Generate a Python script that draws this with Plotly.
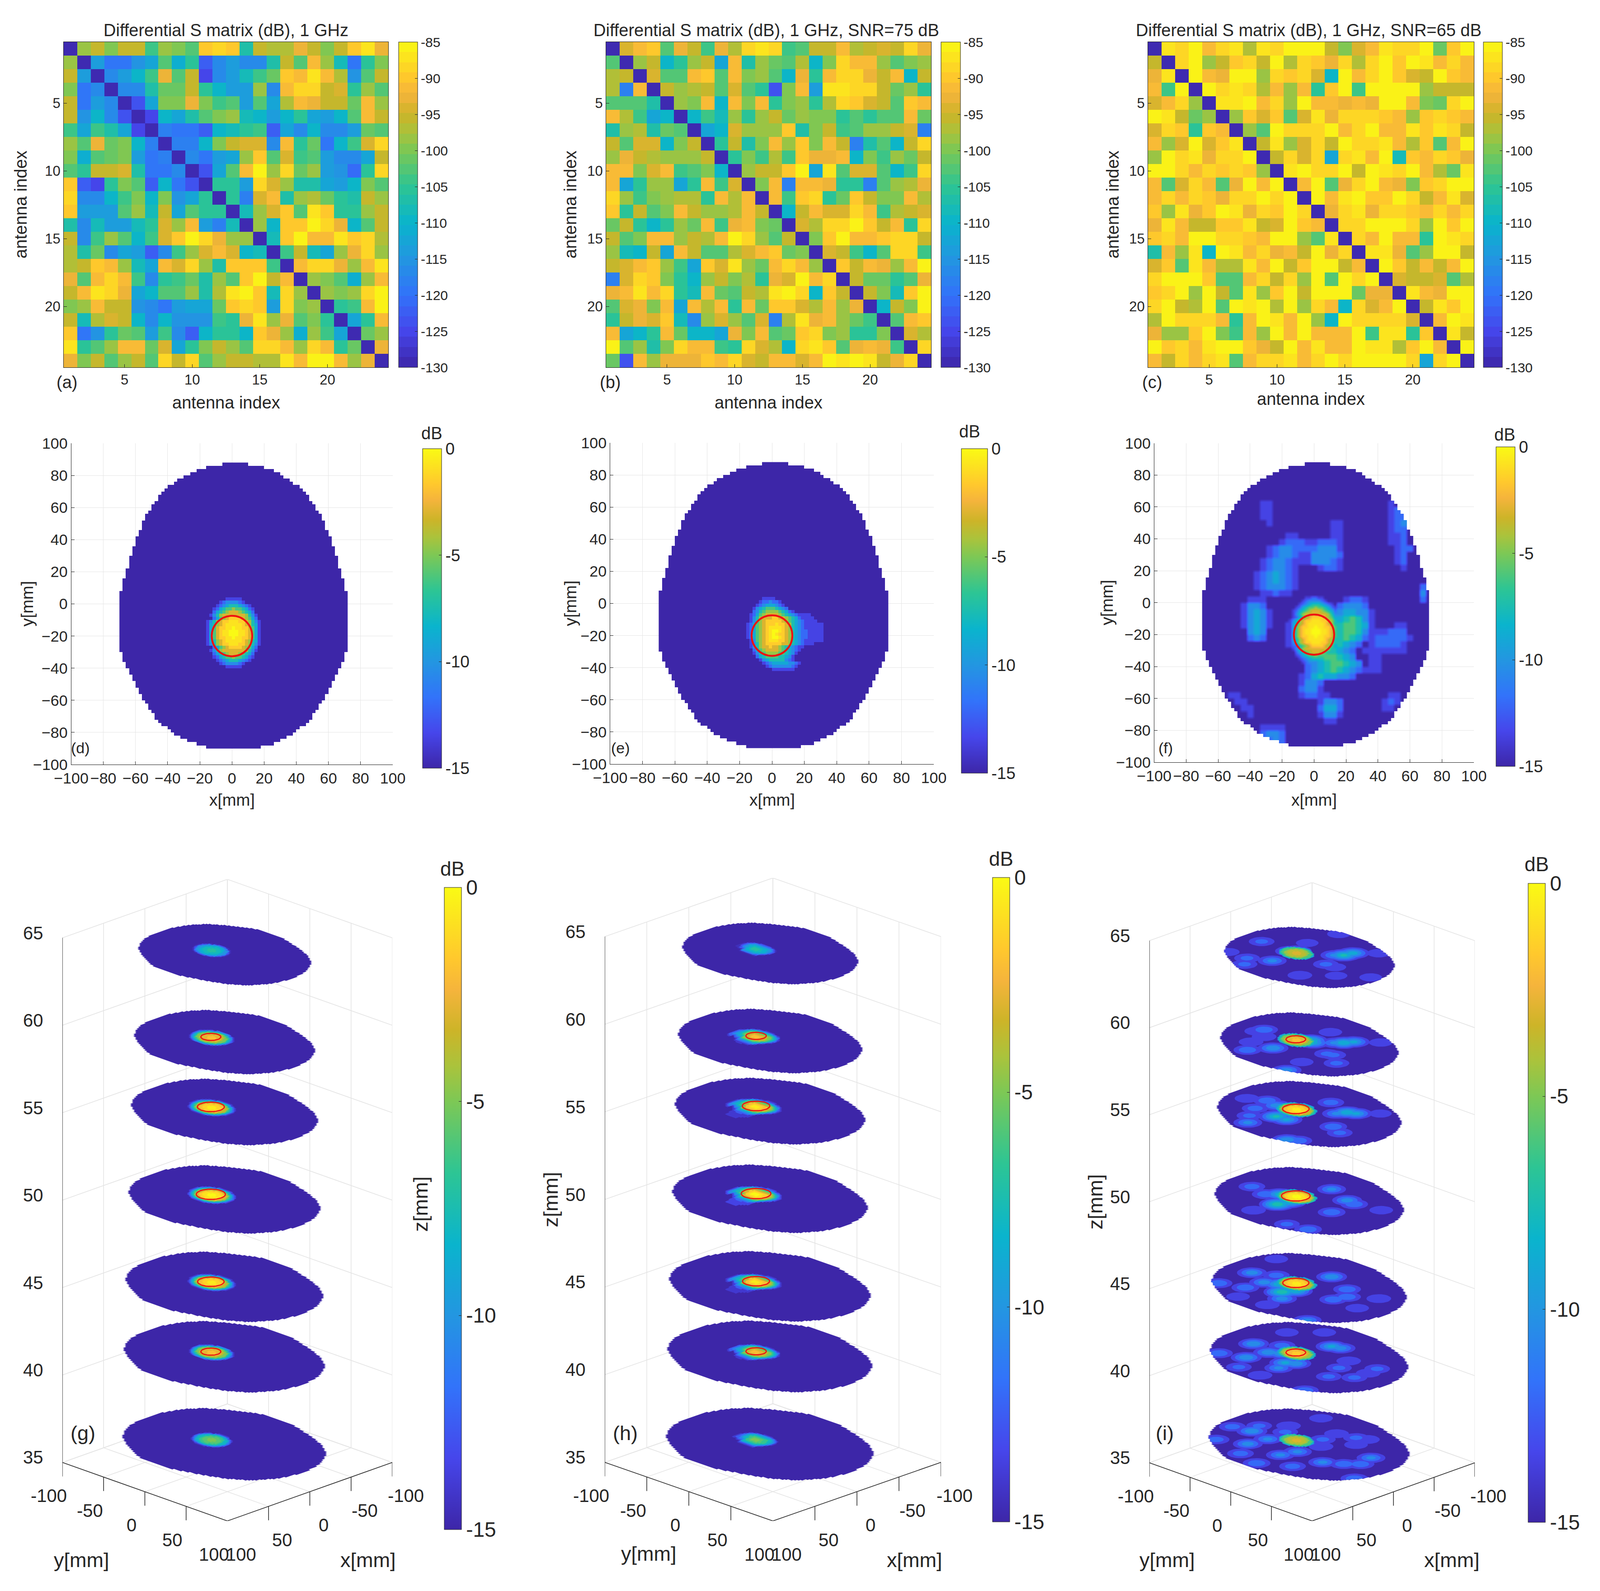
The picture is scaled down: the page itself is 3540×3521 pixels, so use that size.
import plotly.graph_objects as go
import numpy as np

W, H = 3540, 3521
FONT = "Liberation Sans"
INK = "#262626"

# antenna matrices, dB (a), (b), (c)
s_clean = [
    [-130,-98,-96,-100,-96,-96,-104,-99,-100,-103,-90,-88,-90,-107,-96,-97,-97,-93,-95,-100,-96,-90,-87,-93],
    [-98,-130,-114,-120,-120,-115,-113,-103,-111,-105,-122,-117,-114,-116,-117,-107,-96,-103,-92,-98,-108,-120,-105,-100],
    [-96,-114,-130,-116,-114,-109,-104,-93,-102,-95,-125,-117,-114,-108,-104,-101,-90,-91,-87,-91,-97,-115,-102,-96],
    [-100,-120,-116,-130,-116,-116,-107,-101,-101,-96,-106,-110,-114,-114,-98,-117,-92,-89,-89,-95,-94,-105,-99,-103],
    [-96,-120,-114,-116,-130,-124,-112,-100,-100,-93,-100,-104,-103,-114,-103,-113,-97,-91,-93,-95,-95,-101,-92,-99],
    [-96,-115,-109,-116,-124,-130,-125,-110,-113,-107,-103,-100,-98,-108,-110,-114,-109,-105,-112,-114,-110,-102,-92,-96],
    [-104,-113,-104,-107,-112,-125,-130,-118,-119,-119,-122,-109,-108,-106,-104,-122,-112,-117,-110,-116,-117,-114,-101,-103],
    [-99,-103,-93,-101,-100,-110,-118,-130,-118,-118,-109,-100,-95,-94,-94,-117,-91,-106,-101,-120,-110,-104,-94,-88],
    [-100,-111,-102,-101,-100,-114,-120,-118,-130,-116,-120,-114,-112,-99,-90,-103,-94,-104,-102,-114,-116,-117,-112,-96],
    [-103,-105,-95,-96,-94,-107,-119,-119,-116,-130,-123,-112,-103,-91,-85,-98,-88,-101,-98,-114,-115,-121,-106,-88],
    [-90,-122,-125,-106,-100,-103,-122,-109,-120,-123,-130,-106,-106,-114,-89,-94,-98,-107,-107,-112,-114,-109,-100,-102],
    [-88,-117,-117,-110,-104,-100,-109,-100,-115,-112,-106,-130,-106,-118,-94,-91,-107,-99,-97,-101,-105,-107,-96,-98],
    [-90,-114,-114,-114,-103,-98,-108,-95,-112,-103,-106,-106,-130,-108,-98,-94,-90,-102,-87,-90,-106,-105,-98,-96],
    [-107,-116,-108,-114,-114,-108,-106,-94,-99,-91,-114,-118,-108,-130,-99,-109,-90,-90,-86,-89,-93,-109,-103,-96],
    [-96,-117,-104,-98,-103,-109,-104,-94,-90,-86,-89,-93,-98,-99,-130,-108,-90,-85,-91,-91,-87,-90,-88,-97],
    [-97,-107,-101,-117,-113,-114,-122,-117,-104,-98,-94,-91,-94,-109,-108,-130,-104,-96,-108,-113,-99,-93,-88,-98],
    [-97,-96,-90,-92,-98,-108,-112,-91,-94,-89,-98,-107,-90,-90,-90,-104,-130,-92,-88,-89,-93,-99,-92,-87],
    [-93,-103,-91,-89,-91,-104,-117,-106,-104,-101,-107,-99,-102,-90,-86,-96,-92,-130,-98,-100,-103,-111,-98,-91],
    [-95,-92,-87,-89,-93,-112,-110,-102,-102,-98,-107,-97,-87,-86,-90,-108,-88,-98,-130,-99,-100,-99,-89,-85],
    [-100,-98,-91,-95,-95,-115,-116,-119,-114,-113,-112,-101,-90,-89,-90,-114,-88,-100,-99,-130,-106,-104,-91,-85],
    [-96,-108,-97,-94,-95,-110,-117,-110,-115,-115,-115,-104,-106,-93,-87,-99,-93,-103,-100,-106,-130,-112,-106,-92],
    [-90,-120,-115,-105,-101,-102,-114,-104,-117,-122,-109,-106,-105,-109,-90,-93,-99,-111,-99,-104,-112,-130,-101,-98],
    [-87,-105,-102,-99,-92,-91,-101,-94,-112,-106,-100,-96,-98,-103,-88,-88,-92,-98,-89,-91,-106,-101,-130,-93],
    [-93,-100,-96,-103,-99,-96,-103,-88,-96,-88,-102,-98,-96,-96,-97,-97,-87,-91,-85,-85,-92,-98,-93,-130],
]
s_snr75 = [
    [-130,-94,-92,-90,-102,-93,-96,-104,-93,-97,-89,-87,-88,-104,-103,-96,-95,-91,-97,-96,-94,-95,-88,-93],
    [-103,-130,-98,-96,-110,-105,-99,-96,-113,-91,-107,-98,-101,-103,-97,-110,-100,-89,-92,-91,-99,-103,-100,-99],
    [-97,-96,-130,-94,-102,-102,-91,-90,-102,-92,-100,-98,-103,-110,-93,-106,-91,-88,-88,-93,-96,-91,-110,-95],
    [-97,-118,-92,-130,-95,-98,-97,-96,-103,-94,-103,-106,-124,-100,-91,-114,-87,-87,-88,-88,-95,-101,-98,-105],
    [-102,-103,-102,-107,-130,-98,-100,-91,-109,-91,-100,-92,-106,-100,-98,-106,-97,-89,-90,-94,-96,-103,-90,-91],
    [-91,-97,-104,-113,-110,-130,-109,-104,-108,-98,-106,-99,-96,-101,-98,-100,-100,-106,-103,-106,-103,-102,-91,-101],
    [-107,-98,-97,-107,-101,-103,-130,-113,-110,-94,-98,-98,-98,-90,-107,-100,-95,-104,-102,-99,-99,-96,-94,-118],
    [-96,-103,-94,-94,-110,-100,-96,-130,-106,-96,-107,-100,-92,-98,-90,-100,-91,-95,-118,-107,-102,-109,-96,-88],
    [-99,-93,-96,-97,-98,-98,-98,-96,-130,-105,-100,-104,-97,-104,-90,-93,-93,-92,-109,-100,-104,-98,-101,-95],
    [-92,-92,-100,-94,-92,-104,-102,-100,-109,-130,-98,-96,-96,-90,-85,-112,-87,-102,-94,-94,-102,-109,-104,-88],
    [-91,-112,-106,-98,-98,-113,-105,-91,-104,-94,-130,-100,-91,-118,-91,-92,-93,-105,-105,-118,-103,-98,-97,-93],
    [-89,-98,-104,-100,-99,-97,-97,-106,-91,-97,-92,-130,-91,-104,-90,-88,-106,-101,-90,-95,-100,-100,-91,-97],
    [-90,-106,-95,-103,-100,-91,-95,-98,-99,-97,-92,-96,-130,-110,-95,-91,-94,-94,-88,-91,-104,-97,-95,-94],
    [-101,-96,-105,-109,-105,-98,-101,-91,-104,-93,-92,-100,-101,-130,-94,-97,-88,-89,-85,-90,-95,-92,-106,-88],
    [-95,-102,-100,-91,-92,-99,-96,-97,-91,-85,-88,-98,-102,-95,-130,-100,-90,-85,-92,-92,-90,-88,-88,-95],
    [-98,-108,-110,-96,-113,-91,-95,-103,-103,-97,-94,-92,-90,-101,-100,-130,-94,-95,-104,-109,-102,-88,-88,-104],
    [-96,-94,-91,-90,-99,-104,-113,-90,-94,-87,-98,-101,-92,-89,-92,-98,-130,-90,-95,-91,-93,-98,-91,-86],
    [-118,-94,-88,-90,-100,-105,-110,-98,-96,-100,-97,-106,-93,-94,-85,-91,-89,-130,-96,-101,-101,-105,-103,-93],
    [-93,-91,-87,-92,-89,-106,-108,-92,-101,-102,-95,-97,-87,-85,-89,-109,-90,-96,-130,-96,-100,-108,-90,-85],
    [-103,-94,-93,-100,-91,-113,-91,-97,-92,-105,-92,-101,-90,-90,-94,-97,-91,-98,-93,-130,-110,-96,-100,-85],
    [-105,-95,-93,-94,-90,-108,-116,-99,-94,-98,-102,-94,-118,-97,-87,-93,-92,-98,-101,-104,-130,-103,-92,-90],
    [-91,-112,-110,-106,-92,-101,-110,-110,-112,-93,-100,-92,-102,-101,-90,-88,-100,-98,-105,-106,-100,-130,-94,-97],
    [-86,-103,-99,-107,-100,-89,-91,-92,-104,-106,-89,-94,-97,-110,-89,-87,-90,-102,-93,-91,-93,-104,-130,-89],
    [-101,-123,-91,-99,-93,-93,-93,-90,-91,-88,-94,-95,-92,-91,-94,-91,-85,-87,-85,-87,-96,-93,-89,-130],
]
s_snr65 = [
    [-130,-87,-89,-86,-91,-89,-87,-97,-87,-89,-86,-85,-86,-95,-100,-94,-91,-87,-89,-88,-85,-101,-90,-86],
    [-95,-130,-89,-85,-98,-96,-90,-89,-95,-85,-97,-89,-90,-93,-88,-97,-89,-85,-90,-85,-87,-91,-89,-91],
    [-93,-87,-130,-85,-91,-93,-85,-85,-98,-89,-90,-89,-94,-110,-86,-92,-88,-85,-90,-94,-95,-85,-90,-91],
    [-92,-104,-85,-130,-86,-89,-87,-89,-97,-92,-99,-91,-105,-90,-85,-104,-85,-85,-85,-85,-98,-96,-95,-96],
    [-94,-91,-89,-98,-130,-87,-87,-85,-91,-88,-99,-86,-92,-91,-93,-92,-93,-86,-85,-92,-100,-101,-88,-86],
    [-86,-87,-96,-101,-99,-130,-98,-90,-94,-90,-102,-94,-87,-93,-89,-89,-88,-90,-91,-98,-90,-88,-90,-91],
    [-94,-89,-90,-105,-90,-91,-130,-99,-102,-85,-88,-88,-89,-85,-92,-89,-86,-91,-91,-87,-90,-87,-88,-96],
    [-92,-99,-94,-85,-94,-90,-87,-130,-95,-87,-98,-94,-88,-96,-85,-88,-89,-87,-91,-97,-90,-102,-91,-85],
    [-98,-85,-89,-87,-93,-88,-88,-85,-130,-95,-88,-94,-88,-112,-89,-87,-92,-85,-108,-90,-91,-88,-90,-93],
    [-85,-85,-89,-92,-89,-90,-89,-90,-98,-130,-87,-86,-88,-88,-85,-96,-85,-87,-88,-85,-91,-97,-101,-87],
    [-92,-102,-94,-89,-91,-103,-93,-85,-91,-85,-130,-92,-85,-102,-93,-89,-85,-91,-93,-100,-90,-89,-86,-85],
    [-92,-88,-92,-89,-90,-93,-88,-88,-85,-88,-85,-130,-85,-92,-87,-85,-90,-90,-85,-89,-96,-92,-87,-94],
    [-90,-98,-87,-93,-90,-86,-87,-93,-88,-90,-85,-88,-130,-93,-89,-87,-93,-88,-89,-90,-92,-88,-91,-88],
    [-93,-87,-91,-95,-96,-90,-90,-87,-96,-94,-85,-90,-91,-130,-88,-88,-85,-86,-85,-88,-98,-85,-90,-85],
    [-90,-89,-91,-86,-86,-89,-89,-90,-91,-85,-85,-99,-103,-87,-130,-88,-92,-85,-92,-92,-105,-85,-87,-88],
    [-107,-92,-98,-87,-109,-85,-87,-91,-89,-93,-91,-95,-85,-93,-88,-130,-87,-87,-93,-102,-99,-85,-85,-96],
    [-94,-90,-103,-87,-92,-97,-97,-87,-91,-85,-95,-90,-86,-86,-96,-91,-130,-86,-90,-96,-92,-96,-91,-85],
    [-89,-85,-85,-85,-90,-102,-102,-91,-89,-95,-88,-98,-86,-102,-86,-88,-85,-130,-94,-96,-95,-94,-102,-97],
    [-90,-88,-85,-99,-86,-95,-103,-87,-98,-90,-85,-96,-85,-85,-86,-101,-93,-93,-130,-87,-92,-93,-85,-85],
    [-88,-85,-95,-97,-85,-102,-85,-87,-85,-97,-85,-98,-89,-91,-109,-88,-94,-92,-85,-130,-96,-87,-90,-85],
    [-97,-86,-88,-89,-88,-92,-105,-91,-85,-87,-91,-86,-98,-109,-85,-89,-89,-89,-89,-94,-130,-92,-85,-87],
    [-93,-99,-99,-90,-85,-100,-104,-92,-98,-85,-91,-85,-92,-91,-91,-85,-104,-87,-87,-106,-90,-130,-87,-95],
    [-85,-90,-89,-91,-87,-85,-86,-90,-93,-95,-85,-91,-87,-91,-91,-85,-87,-87,-97,-90,-85,-91,-130,-85],
    [-91,-95,-89,-92,-88,-87,-102,-92,-88,-88,-87,-91,-89,-85,-89,-85,-85,-85,-85,-89,-112,-89,-85,-130],
]

# head outline: left and right edge in mm for the 2 mm rows y = 87 ... -89
head_left = ([-7,-17,-23,-27,-30,-34,-36,-40,-42,-44,-46,-46,-48,-50,-50,-52,-54,-54,-56,-56,-56,-58,-58]
             + [-60]*3 + [-62]*3 + [-64]*4 + [-66]*3 + [-68]*4 + [-70]*19 + [-68]*3 + [-66]*2 + [-64]*2
             + [-62]*2 + [-60]*2 + [-58]*2 + [-56]*2 + [-54,-52,-52,-50,-48,-48,-46,-44,-40,-38,-36,-32,-28,-22,-16])
head_right = ([9,19,25,29,31,35,37,41,43,45,47,47,49,51,51,53,55,55,57,57,57,59,59]
              + [61]*3 + [63]*3 + [65]*4 + [67]*3 + [69]*4 + [71]*19 + [69]*3 + [67]*2 + [65]*2
              + [63]*2 + [61]*2 + [59]*2 + [57]*2 + [55,53,53,51,49,49,47,45,41,39,37,33,29,25,17])

# levels: "." is -15 dB, 1..9 step 1.5 dB, a is -0.75 dB, 0 is 0 dB
# spots: 2 mm cells, first char x=-17, first row y=3
spot_clean = [
    ".......11111.......", ".....12333321......", "....1234555 4321....", "...124566766 5421...",
    "...245678887 6542...", "..135788888887531..", "..246789999876 42..", ".13578 99aaa9987531.",
    ".145789aaaaa987541.", ".146899aa0aa998641.", ".14689aa000aa98641.", ".14689aa000aa98641.",
    ".146899aa0aa998641.", ".145789aaaaa987541.", ".13578 99aaa9987531.", "..246789999876 42..",
    "..135788888887531..", "...245678887 6542...", "...124566766 5421...", "....1234555 4321....",
    ".....12333321......", ".......11111.......",
]
spot_clean = [r.replace(" ", "").center(19, ".")[:19] for r in spot_clean]
spot_snr75 = [
    "......1111", ".....1223221", "....123444321", "...13456665432", "...2356777765421",
    "..1246788887654321111", "..13578889988765421111", "..135789999987654321111",
    ".124678999a99875432111111", ".1246789aaaa9875432111111", ".1246789a00a9875432211111",
    ".1246789a0a99875432211111", ".1246789a00a9875432211111", "..136789aaa99875432111111",
    "..13578999998875432111", "..13578898876543211", "...246788887654321", "...13567777665431",
    "....245666655431", ".....13455555321", "......123444443321", ".......1233333321",
    ".........1111111",
]
# panel (f): 4 mm cells, first char x=-68, rows y = 86 ... -90
field_snr65 = [
    "", "", "", "", "", "",
    ".........11..................1",
    ".........11..................12",
    ".........11..................122",
    "..........1.........11.......123",
    "....................11.......122",
    ".............11.....11.......112",
    "............1222112221.......112",
    "..........123322223331........122",
    "..........123321133332........12",
    ".........1233211133321........12",
    ".........123321...1221.........1",
    "........1234321",
    "........1234321",
    "........1233321...................2",
    ".........11211....................3",
    ".......111......121...1221........2",
    "......1332.....12332.23332",
    "......13431...1355412344331",
    "......13431...1467663456531",
    "......13431..12567764566541...11",
    ".......343...1267877556653111222",
    ".......232...12678774565421222221",
    ".............125677445432.122221",
    "...............234555432.1111111",
    "...............134566543..11",
    "................234566543.11",
    "................234565432111",
    "...............124544332",
    "...............1332",
    "...............2331",
    "....11.........12211.........11",
    ".....11...........1332......121",
    "......11..........2442......11",
    ".......1..........1331",
    "...................11",
    ".........1111",
    ".........2332",
    "..........232",
    "",
]

# slices of the 3D panels
slice_z = [36, 41, 45, 50, 55, 59, 64]
slice_scale = [1.06, 1.047, 1.03, 1.0, 0.974, 0.942, 0.90]
slice_offset = [-5, -2, -0.5, 0, -0.5, -2, -7]
slice_offset_noisy = [-3, -1.5, -0.5, 0, -0.5, -2, -3]
circle_r = [0, 8.6, 11.4, 12.5, 11.6, 8.6, 0]

# panel (i): side blobs (x mm, y mm, dB) for each slice
blobs_z36 = [(12.5,-61.5,-9.5),(17,-81,-11.5),(-1,-66,-12),(16.5,-38,-10.5),(37,-42,-10),(58,-30,-11.5),(64.7,-3.5,-11),
             (36,-3,-10.5),(20,2,-10.5),(48,24,-11.5),(-16.7,-3.5,-12),(-3.5,7.5,-12.5),(-19,-48,-12.5),(-6.5,-39.5,-12),
             (-52,-41,-13),(-35,-5,-12.5),(-40,14,-12),(-44,24,-12.5),(-28,26,-13),(22.5,35.5,-10.5),(12.5,51.5,-11),
             (2.5,62,-11),(-14.7,57.7,-10.5),(49,-69,-11.5),(31,83,-11)]
blobs_z41 = [(11,-61,-9.5),(-3.5,-40.5,-11.5),(16.5,-37,-9.5),(10,-27,-9),(39,-42,-9.5),(24,-9,-9),(19,-1,-9.5),(37,-4,-10.5),
             (60,-30,-12),(61,-3,-12.5),(-32.5,-8.5,-9),(-35,0,-10),(-18,27,-12.5),(0,33,-12),(21,41.5,-12),(7,59,-12),
             (-22,58,-12),(-9,60,-12.5),(-52,-37,-13),(-29,-60,-13),(48.5,-66,-11),(59.5,50.5,-11)]
blobs_z45 = [(9.5,-64.5,-10),(-1,-45,-11.5),(18.5,-40.5,-10),(12,-28,-8),(24,-13,-6.5),(14,-6,-8),(35.5,-1.5,-10),(39,-43,-11),
             (59,-32,-13),(55,0,-12.5),(-32.5,-8.5,-9.5),(-20.5,22.5,-11),(5.5,31.5,-11),(-7.5,35.5,-11),(-24,58,-12.5),
             (5.6,61,-13),(57,51,-10.5),(48,-67,-11),(-29,-73,-13)]
blobs_z50 = [(11,-63,-11.5),(-33.5,-9.5,-10.5),(15.5,-41.5,-11),(7,-33,-8.5),(25.6,-17,-6.5),(14.6,-13,-8),(50.5,-21.5,-12.5),
             (-24,19,-10),(-21.7,30,-11),(6,30,-11),(50,45,-11),(54,23,-12),(-28,57,-13)]
blobs_z55 = [(12,-68,-12.5),(3.4,-52,-11),(6,-38,-10),(3,-25,-8),(25,-19,-7.5),(24,-7.5,-9),(24,-46,-11.5),(53,-26,-10.5),
             (40,-37,-12),(-32.5,-9.5,-11.5),(-25.5,17.5,-8),(-29,25,-9),(-17,13,-10.5),(7.5,33.5,-11),(14,48,-12),
             (58.5,27.5,-9.5),(53,36,-11),(-44,40,-13.5)]
blobs_z59 = [(3,-56,-11),(10,-58,-12.5),(29,-19,-9.5),(48,-31.5,-11),(32,-43,-12.5),(15,-44,-12.5),(-6,-9,-7),(-5,-3,-9),
             (-23.5,15.5,-8),(-31,20,-9),(-18,10,-10.5),(-33.5,-11,-13),(5.6,24,-12),(16,46,-12),(4,30,-12),(35.4,22.6,-13),
             (58.7,27.4,-10),(-46.7,37.7,-13)]
blobs_z64 = [(2.5,-59.5,-12),(-2,-22,-9),(1.8,-26,-10.5),(-23,-29,-13.5),(-24.5,14.5,-7.5),(-33.5,16.5,-8.5),(-19,9,-10.5),
             (29,-20,-10.5),(40,-40,-12),(52,-31,-12),(2,19,-12),(1.5,29.5,-13.5),(37,22,-12.5),(15.5,45,-13.5),(-3,69,-13.5),
             (-58,-25,-13),(-49.5,32.5,-13),(41,-62,-13.5)]
blobs_noisy = [blobs_z36, blobs_z41, blobs_z45, blobs_z50, blobs_z55, blobs_z59, blobs_z64]

# colour map stops
map_pos = [0, 0.111, 0.222, 0.333, 0.444, 0.556, 0.667, 0.722, 0.778, 0.84, 0.889, 1]
map_rgb = [(61,38,168), (70,70,235), (50,115,250), (35,150,225), (10,180,205),
           (45,197,148), (125,200,85), (170,195,60), (205,180,40), (245,180,60), (255,200,45), (250,250,20)]
smooth_map = [[p, "rgb(%d,%d,%d)" % c] for p, c in zip(map_pos, map_rgb)]


def map_colour(t):
    return "rgb(%d,%d,%d)" % tuple(int(np.interp(t, map_pos, [m[k] for m in map_rgb])) for k in range(3))


def stepped_map(n=32):
    out = []
    for i in range(n):
        col = map_colour((i + 0.5) / n)
        out += [[i / n, col], [(i + 1) / n, col]]
    return out


def level_grid(rows, n):
    step = {".": 0, "a": 9.5, "0": 10}
    return np.array([[-15 + 1.5 * (step[c] if c in step else int(c))
                      for c in r.ljust(n, ".")[:n]] for r in rows], float)


grid_x = np.arange(-69, 72, 2)
grid_y = np.arange(87, -90, -2)


def spot_field(rows):
    out = np.full((len(grid_y), len(grid_x)), -15.0)
    n = max(len(r) for r in rows)
    g = level_grid(rows, n)
    out[42:42 + g.shape[0], 26:26 + g.shape[1]] = g
    return out


def head_mask():
    mask = np.zeros((len(grid_y), len(grid_x)), bool)
    for i in range(len(grid_y)):
        mask[i] = (grid_x >= head_left[i] + 1) & (grid_x <= head_right[i])
    return mask


def cb(left, right, top, bottom, vals, size):
    return dict(x=left / W, xanchor="left", xpad=0, y=1 - bottom / H, yanchor="bottom", ypad=0,
                len=(bottom - top) / H, lenmode="fraction", thickness=right - left, thicknessmode="pixels",
                tickvals=vals, ticktext=[str(v) for v in vals], ticks="inside", ticklen=6, tickcolor=INK,
                tickwidth=1, outlinecolor=INK, outlinewidth=1,
                tickfont=dict(family=FONT, size=size, color=INK))


fig = go.Figure()
annots = []


def label(text, x, y, size, angle=0):
    annots.append(dict(text=text, x=x / W, y=1 - y / H, xref="paper", yref="paper", showarrow=False,
                       xanchor="center", yanchor="middle", textangle=angle,
                       font=dict(family=FONT, size=size, color=INK)))


layout = {}

# top row
top_panels = [
    (s_clean, 1, (141, 859), (882, 924), "Differential S matrix (dB), 1 GHz", "(a)", 148, 891, 46),
    (s_snr75, 2, (1341, 2060), (2082, 2125), "Differential S matrix (dB), 1 GHz, SNR=75 dB", "(b)", 1350, 891, 1262),
    (s_snr65, 3, (2540, 3261), (3282, 3324), "Differential S matrix (dB), 1 GHz, SNR=65 dB", "(c)", 2549, 883, 2462),
]
for z, n, ax, bar, title, tag, tagx, xlaby, ylabx in top_panels:
    fig.add_trace(go.Heatmap(z=z, x=list(range(1, 25)), y=list(range(1, 25)), zmin=-130, zmax=-85,
                             colorscale=stepped_map(), xaxis=f"x{n}", yaxis=f"y{n}",
                             colorbar=cb(bar[0], bar[1], 93, 813, list(range(-130, -80, 5)), 30)))
    layout[f"xaxis{n}"] = dict(domain=[ax[0] / W, ax[1] / W], anchor=f"y{n}", range=[0.5, 24.5],
                               tickvals=[5, 10, 15, 20], ticks="inside", ticklen=7, tickcolor=INK,
                               showline=True, linecolor=INK, mirror=True, showgrid=False, zeroline=False,
                               tickfont=dict(family=FONT, size=31, color=INK))
    layout[f"yaxis{n}"] = dict(domain=[1 - 813 / H, 1 - 93 / H], anchor=f"x{n}", range=[24.5, 0.5],
                               tickvals=[5, 10, 15, 20], ticks="inside", ticklen=7, tickcolor=INK,
                               showline=True, linecolor=INK, mirror=True, showgrid=False, zeroline=False,
                               tickfont=dict(family=FONT, size=31, color=INK))
    label(title, (ax[0] + ax[1]) / 2 if n == 1 else (ax[0] + ax[1]) / 2 - 5, 67, 38)
    label(tag, tagx, 846, 38)
    label("antenna index", (ax[0] + ax[1]) / 2, xlaby, 38)
    label("antenna index", ylabx, 453, 38, -90)

# middle row
mask2d = head_mask()
field_d = spot_field(spot_clean)
field_e = spot_field(spot_snr75)
field_f = np.maximum(np.repeat(np.repeat(level_grid(field_snr65, 36), 2, axis=0), 2, axis=1)[:89, :71], field_d)

mid_panels = [
    (field_d, 4, (157.5, 869), (981, 1692), (935, 977, 993, 1700), "(d)", 178, 1655, 60, (955, 959), False),
    (field_e, 5, (1350, 2066), (980, 1691), (2127, 2185, 993, 1711), "(e)", 1373, 1655, 1262, (2145, 955), False),
    (field_f, 6, (2553.6, 3261), (980.6, 1687), (3310, 3352, 989, 1696), "(f)", 2579, 1655, 2450, (3329, 962), True),
]
for field, n, ax, ay, bar, tag, tagx, tagy, ylabx, db_xy, smooth in mid_panels:
    fig.add_trace(go.Heatmap(z=np.where(mask2d, field, np.nan), x=grid_x, y=grid_y, zmin=-15, zmax=0,
                             colorscale=smooth_map, xaxis=f"x{n}", yaxis=f"y{n}",
                             zsmooth="best" if smooth else False,
                             colorbar=cb(bar[0], bar[1], bar[2], bar[3], [-15, -10, -5, 0], 37)))
    common = dict(range=[-100, 100], dtick=20, ticks="inside", ticklen=7, tickcolor=INK, showline=True,
                  linecolor=INK, showgrid=True, gridcolor="#e6e6e6", zeroline=False,
                  tickfont=dict(family=FONT, size=34, color=INK))
    layout[f"xaxis{n}"] = dict(domain=[ax[0] / W, ax[1] / W], anchor=f"y{n}", **common)
    layout[f"yaxis{n}"] = dict(domain=[1 - ay[1] / H, 1 - ay[0] / H], anchor=f"x{n}", **common)
    fig.add_shape(type="circle", xref=f"x{n}", yref=f"y{n}", x0=-12.6, x1=12.6, y0=-32.6, y1=-7.4,
                  line=dict(color="#f01010", width=4))
    label(tag, tagx, tagy, 34)
    label("x[mm]", (ax[0] + ax[1]) / 2, 1770, 37)
    label("y[mm]", ylabx, (ay[0] + ay[1]) / 2, 37, -90)
    label("dB", db_xy[0], db_xy[1], 38)


# bottom row: the stacked slices, oblique view drawn on flat axes
def view(x, y, z):
    return (np.asarray(y) - np.asarray(x)) * 0.7071, -(np.asarray(x) + np.asarray(y)) * 0.251 + 15 * (np.asarray(z) - 35)


def lines(segments):
    xs, ys = [], []
    for a, b in segments:
        u, v = view(*zip(a, b))
        xs += list(u) + [None]
        ys += list(v) + [None]
    return xs, ys


axis_ticks = [-100, -50, 0, 50, 100]
z_ticks = [35, 40, 45, 50, 55, 60, 65]

grid_segments = []
for t in axis_ticks:
    grid_segments += [((t, -100, 35), (t, -100, 65)), ((-100, t, 35), (-100, t, 65)),
                      ((t, -100, 35), (t, 100, 35)), ((-100, t, 35), (100, t, 35))]
for t in z_ticks:
    grid_segments += [((100, -100, t), (-100, -100, t)), ((-100, -100, t), (-100, 100, t))]

edge_segments = [((100, -100, 35), (100, -100, 65)), ((100, -100, 35), (100, 100, 35)), ((100, 100, 35), (-100, 100, 35))]
for t in axis_ticks:
    edge_segments += [((100, t, 35), (100, t, 34.2)), ((t, 100, 35), (t, 100, 34.2))]
for t in z_ticks:
    edge_segments.append(((100, -100, t), (100, -115, t)))

scene_panels = [
    (7, spot_field(spot_clean), slice_offset, None, (138, 868), (1946, 3366), (983, 1021, 1964, 3385), "(g)", 183,
     (180, 3452), (814, 3452), (930, 2665), (1001, 1922)),
    (8, spot_field(spot_snr75), slice_offset, None, (1338, 2082), (1943, 3366), (2196, 2234, 1942, 3368), "(h)", 1383,
     (1435, 3438), (2023, 3452), (1218, 2655), (2215, 1900)),
    (9, spot_field(spot_clean), slice_offset_noisy, blobs_noisy, (2543, 3263), (1953, 3366), (3381, 3419, 1955, 3369), "(i)", 2577,
     (2582, 3452), (3212, 3452), (2423, 2660), (3400, 1912)),
]
angle = np.linspace(0, 2 * np.pi, 33)
for n, spot, offsets, blobs, ax, ay, bar, tag, tagx, ylab, xlab, zlab, dblab in scene_panels:
    xa, ya = f"x{n}", f"y{n}"
    layout[f"xaxis{n}"] = dict(domain=[ax[0] / W, ax[1] / W], anchor=ya, range=[-141.42, 141.42], visible=False)
    layout[f"yaxis{n}"] = dict(domain=[1 - ay[1] / H, 1 - ay[0] / H], anchor=xa, range=[-50.2, 500.2], visible=False)
    xs, ys = lines(grid_segments)
    fig.add_trace(go.Scatter(x=xs, y=ys, mode="lines", line=dict(color="#e4e4e4", width=1.5), xaxis=xa, yaxis=ya, hoverinfo="skip"))
    xs, ys = lines(edge_segments)
    fig.add_trace(go.Scatter(x=xs, y=ys, mode="lines", line=dict(color=INK, width=1.5), xaxis=xa, yaxis=ya, hoverinfo="skip"))
    for k, z0 in enumerate(slice_z):
        s = slice_scale[k]
        # head disc
        ey = np.ravel([[(y + 1) * s, (y - 1) * s] for y in grid_y])
        el = np.repeat(head_left, 2) * s
        er = np.repeat(head_right, 2) * s
        u, v = view(np.r_[el, er[::-1]], np.r_[ey, ey[::-1]], np.full(2 * len(ey), z0))
        fig.add_trace(go.Scatter(x=u, y=v, mode="lines", fill="toself", fillcolor=map_colour(0), line=dict(width=0),
                                 xaxis=xa, yaxis=ya, hoverinfo="skip"))
        # side blobs as rings of equal level
        if blobs is not None:
            for lvl in [-13.5, -12, -10.5, -9, -7.5, -6]:
                px, py = [], []
                for bx, by, db in blobs[k]:
                    if db < lvl:
                        continue
                    peak = db + 15
                    radius = (8.5 + peak * 0.9) * (db - lvl + 1.5) / peak
                    cy = by + radius * np.sin(angle)
                    row = np.clip(np.round((87 - cy / s) / 2).astype(int), 0, 88)
                    cx = np.clip(bx + radius * np.cos(angle), np.array(head_left)[row] * s, np.array(head_right)[row] * s)
                    px += list(cx) + [None]
                    py += list(cy) + [None]
                if px:
                    u = [None if a is None else (b - a) * 0.7071 for a, b in zip(px, py)]
                    v = [None if a is None else -(a + b) * 0.251 + 15 * (z0 - 35) for a, b in zip(px, py)]
                    fig.add_trace(go.Scatter(x=u, y=v, mode="lines", fill="toself", fillcolor=map_colour((lvl + 15) / 15),
                                             line=dict(width=0), xaxis=xa, yaxis=ya, hoverinfo="skip"))
        # hot spot cells, 2 mm
        spot_k = np.clip(spot + offsets[k], -15, 0)
        keep = spot_k > (-14.9 if blobs is None else -10)
        sx, sy = np.meshgrid(grid_x, grid_y)
        order = np.argsort(spot_k[keep])
        u, v = view(sx[keep][order], sy[keep][order], np.full(order.size, z0))
        marker = dict(color=spot_k[keep][order], cmin=-15, cmax=0, colorscale=smooth_map, symbol="diamond-wide", size=8, line=dict(width=0))
        if k == 0:
            marker.update(showscale=True, colorbar=cb(bar[0], bar[1], bar[2], bar[3], [-15, -10, -5, 0], 46))
        fig.add_trace(go.Scatter(x=u, y=v, mode="markers", marker=marker, xaxis=xa, yaxis=ya, hoverinfo="skip"))
        if circle_r[k] > 0:
            u, v = view(circle_r[k] * np.cos(angle), -20 + circle_r[k] * np.sin(angle), np.full_like(angle, z0))
            fig.add_trace(go.Scatter(x=u, y=v, mode="lines", line=dict(color="#f01010", width=2.5), xaxis=xa, yaxis=ya, hoverinfo="skip"))
    # tick labels
    for t in z_ticks:
        u, v = view(100, -100, t)
        annots.append(dict(text=str(t), x=float(u), y=float(v), xref=xa, yref=ya, showarrow=False, xshift=-65, yshift=11,
                           font=dict(family=FONT, size=40, color=INK)))
    for t in axis_ticks:
        u, v = view(100, t, 35)
        annots.append(dict(text=str(t), x=float(u), y=float(v), xref=xa, yref=ya, showarrow=False, xshift=-30, yshift=-74,
                           font=dict(family=FONT, size=40, color=INK)))
        u, v = view(t, 100, 35)
        annots.append(dict(text=str(t), x=float(u), y=float(v), xref=xa, yref=ya, showarrow=False, xshift=30, yshift=-74,
                           font=dict(family=FONT, size=40, color=INK)))
    label(tag, tagx, 3171, 45)
    label("y[mm]", ylab[0], ylab[1], 45)
    label("x[mm]", xlab[0], xlab[1], 45)
    label("z[mm]", zlab[0], zlab[1], 45, -90)
    label("dB", dblab[0], dblab[1], 44)

fig.update_layout(width=W, height=H, margin=dict(l=0, r=0, t=0, b=0, autoexpand=False), paper_bgcolor="white",
                  plot_bgcolor="white", showlegend=False, annotations=annots, **layout)
fig.write_html("out.html", post_script="document.body.style.margin='0';", config=dict(displayModeBar=False))
